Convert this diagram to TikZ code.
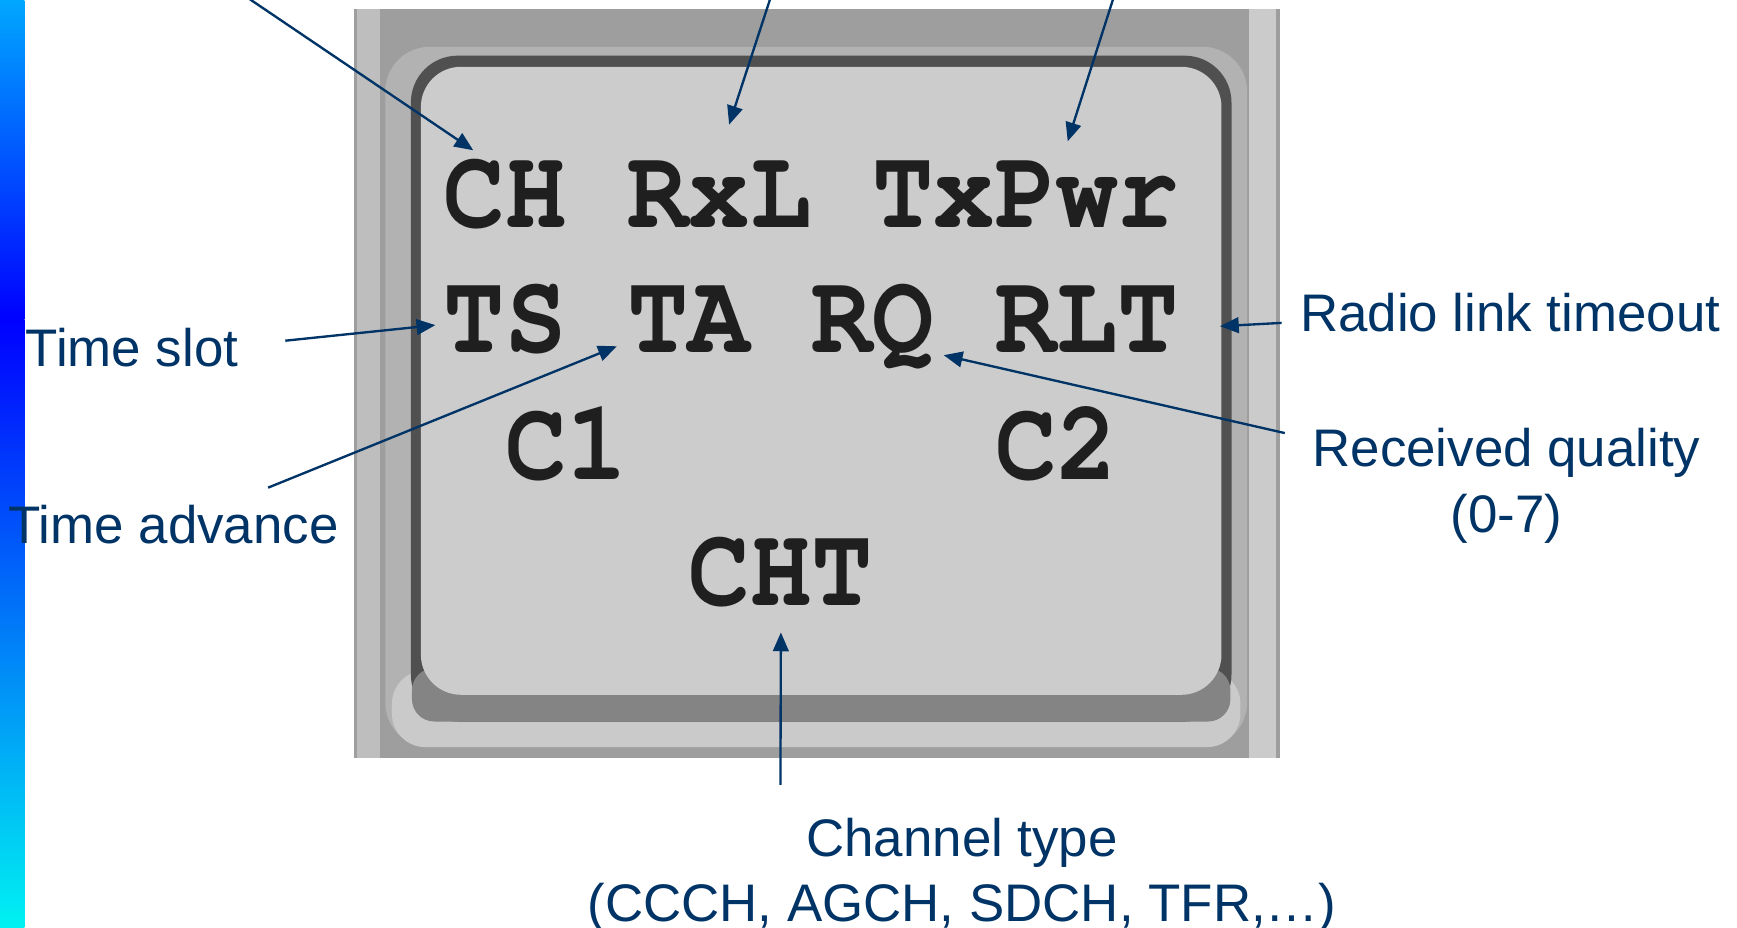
\documentclass[tikz,border=0pt]{standalone}
\usepackage{fontspec}
\setmainfont{Liberation Sans}
\newfontfamily\lcdfont{texgyrecursor-bold.otf}
\usepackage{xcolor}
\usepackage{tikz}
\usetikzlibrary{arrows.meta}

\definecolor{lblblue}{RGB}{0,51,102}
\definecolor{barTop}{RGB}{0,168,255}
\definecolor{barMid}{RGB}{0,0,255}
\definecolor{barBot}{RGB}{0,242,242}
\definecolor{frameGray}{RGB}{158,158,158}
\definecolor{frameLight}{RGB}{190,190,190}
\definecolor{bezelGray}{RGB}{178,178,178}
\definecolor{bezelLight}{RGB}{202,202,202}
\definecolor{screenEdge}{RGB}{80,80,80}
\definecolor{screenBottom}{RGB}{132,132,132}
\definecolor{screenGray}{RGB}{204,204,204}

\begin{document}
\begin{tikzpicture}[x=0.01cm, y=-0.01cm,
    lcd/.style={anchor=base west, inner sep=0pt, yscale=1.12, transform shape, text=black!88, font=\lcdfont\fontsize{26.1}{30}\selectfont},
    lbl/.style={inner sep=0pt, text=lblblue, font=\fontsize{13.5}{16.8}\selectfont},
    pointer/.style={draw=lblblue, line width=0.6pt, -{Triangle[length=4.8pt,width=4pt]}}]
        \useasboundingbox (0,0) rectangle (1560,833.4);

        % Side bar
        \shade[top color=barTop, bottom color=barMid] (0,0) rectangle (22,287);
        \shade[top color=barMid, bottom color=barBot] (0,287) rectangle (22,833.4);

        % Phone frame
        \fill[frameGray] (318,8) rectangle (1150,681);
        \fill[frameLight] (321,8) rectangle (341,681);
        \fill[frameLight!80!white] (1122,8) rectangle (1146,681);
        \fill[bezelGray, rounded corners=0.4cm] (346,42) rectangle (1120,671);
        \fill[bezelLight, rounded corners=0.3cm] (352,602) rectangle (1114,671);

        % Screen
        \fill[screenEdge, rounded corners=0.42cm] (369,50) rectangle (1106,648);
        \fill[screenBottom, rounded corners=0.2cm] (370,600) rectangle (1105,648);
        \fill[screenGray, rounded corners=0.36cm] (378,60) rectangle (1097,624);

        % Screen entries
        \node[lcd] (ch) at (398,204) {CH};
        \node[lcd] (rxl) at (563,204) {RxL};
        \node[lcd] (txpwr) at (783,204) {TxPwr};
        \node[lcd] (ts) at (398,317) {TS};
        \node[lcd] (ta) at (563,317) {TA};
        \node[lcd] (rq) at (728,317) {RQ};
        \node[lcd] (rlt) at (893,317) {RLT};
        \node[lcd] (cone) at (453,431) {C1};
        \node[lcd] (ctwo) at (893,431) {C2};
        \node[lcd] (cht) at (618,544) {CHT};

        % Labels
        \node[lbl, anchor=base west] (tslbl) at (22.5,329) {Time slot};
        \node[lbl, anchor=base west] (talbl) at (7,488) {Time advance};
        \node[lbl, anchor=base west] (rltlbl) at (1167,298) {Radio link timeout};
        \node[lbl, anchor=base, align=center] (rqlbl) at (1353,478) {Received quality\\(0-7)};
        \node[lbl, anchor=base, align=center] (chlbl) at (864,828) {Channel type\\(CCCH, AGCH, SDCH, TFR,…)};

        % Pointers
        \coordinate (chsrc) at (218,-5);
        \coordinate (rxlsrc) at (693,-5);
        \coordinate (txpwrsrc) at (1001,-5);
        \draw[pointer] (chsrc) -- ([xshift=0.27cm,yshift=0.69cm]ch.base west);
        \draw[pointer] (rxlsrc) -- ([xshift=0.085cm,yshift=0.92cm]rxl.base);
        \draw[pointer] (txpwrsrc) -- ([xshift=0.375cm,yshift=0.77cm]txpwr.base);
        \draw[pointer] ([xshift=0.415cm,yshift=0.23cm]tslbl.base east) -- ([xshift=-0.07cm,yshift=0.25cm]ts.base west);
        \draw[pointer] ([xshift=-0.64cm,yshift=0.5cm]talbl.base east) -- ([xshift=-0.09cm,yshift=0.06cm]ta.base west);
        \draw[pointer] ([xshift=-0.16cm,yshift=0.08cm]rltlbl.base west) -- ([xshift=0.36cm,yshift=0.24cm]rlt.base east);
        \draw[pointer] ([xshift=-1.99cm,yshift=0.89cm]rqlbl.base) -- ([xshift=0.08cm,yshift=-0.02cm]rq.base east);
        \draw[pointer] ([xshift=-1.63cm,yshift=1.23cm]chlbl.base) -- ([yshift=-0.24cm]cht.base);
    \end{tikzpicture}
\end{document}
